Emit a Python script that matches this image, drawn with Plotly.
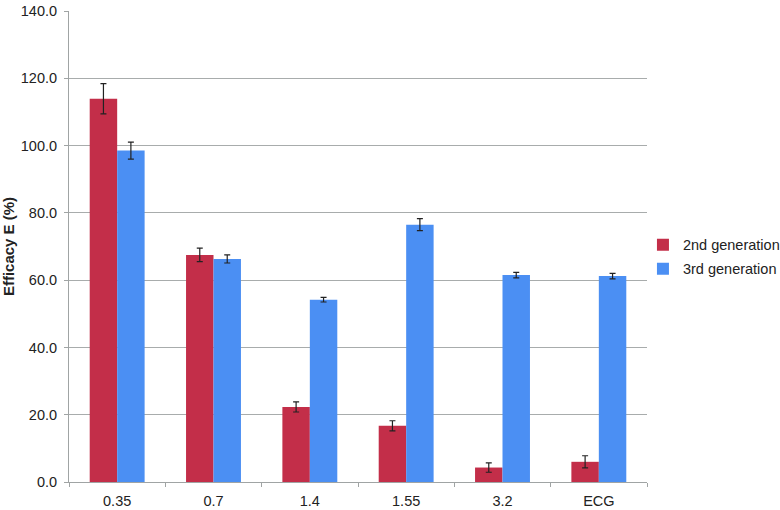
import plotly.graph_objects as go

categories = ["0.35", "0.7", "1.4", "1.55", "3.2", "ECG"]
gen2 = [113.9, 67.5, 22.3, 16.7, 4.3, 6.0]
gen2_err = [4.5, 2.0, 1.5, 1.5, 1.4, 1.8]
gen3 = [98.5, 66.3, 54.2, 76.5, 61.5, 61.2]
gen3_err = [2.5, 1.2, 0.7, 1.8, 0.8, 0.8]
yticks = [0, 20, 40, 60, 80, 100, 120, 140]

fig = go.Figure()
fig.add_trace(go.Bar(
    x=categories, y=gen2, name="2nd generation", legendgroup="g2",
    marker=dict(color="#C32E49", line=dict(width=0)),
    error_y=dict(type="data", array=gen2_err, color="#222222", thickness=1.2, width=3),
))
fig.add_trace(go.Bar(
    x=categories, y=gen3, name="3rd generation", legendgroup="g3",
    marker=dict(color="#4B8FF3", line=dict(width=0)),
    error_y=dict(type="data", array=gen3_err, color="#222222", thickness=1.2, width=3),
))

fig.update_layout(
    width=780, height=510,
    margin=dict(l=69, r=133, t=11, b=28, autoexpand=False),
    paper_bgcolor="white", plot_bgcolor="white",
    barmode="group", bargap=0.43, bargroupgap=0,
    font=dict(family="Liberation Sans, Arial, sans-serif", size=14.5, color="#222222"),
    legend=dict(x=0.993, xanchor="left", y=0.478, yanchor="middle",
                font=dict(size=14.5, color="#222222"), itemwidth=30,
                traceorder="grouped", tracegroupgap=2, bgcolor="rgba(0,0,0,0)"),
    xaxis=dict(
        showline=True, linecolor="#A0A4A4", linewidth=1, automargin=False,
        ticks="outside", tickson="boundaries", ticklen=4, tickcolor="#A0A4A4",
        showgrid=False, tickfont=dict(size=14.5), ticklabelstandoff=6,
    ),
    yaxis=dict(
        range=[0, 140], tickvals=yticks, tickformat=".1f", automargin=False,
        showline=True, linecolor="#A0A4A4", linewidth=1,
        ticks="outside", ticklen=4, tickcolor="#A0A4A4", ticklabelstandoff=4,
        showgrid=True, gridcolor="#A8ACAC", gridwidth=1,
        zeroline=False, tickfont=dict(size=14.5),
        title=dict(text="<b>Efficacy E (%)</b>", font=dict(size=15), standoff=10),
    ),
)

fig.write_html("out.html", post_script="document.body.style.margin='0';",
               config={"displayModeBar": False})
